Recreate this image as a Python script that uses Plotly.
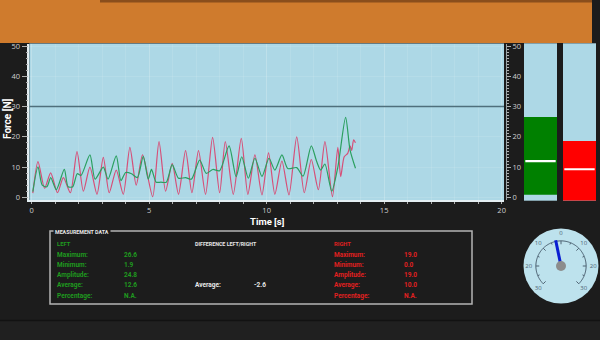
import numpy as np
import plotly.graph_objects as go

# ---------------- data ----------------
red_t = [0.05, 0.27, 0.55, 0.81, 1.1, 1.35, 1.65, 1.93, 2.2, 2.48, 2.78, 3.05, 3.3, 3.6, 3.9,
         4.18, 4.45, 4.72, 5.15, 5.42, 5.7, 5.98, 6.25, 6.55, 6.82, 7.1, 7.4, 7.7, 8.0, 8.24,
         8.58, 8.92, 9.2, 9.5, 9.8, 10.08, 10.35, 10.65, 10.95, 11.28, 11.6, 11.9, 12.2, 12.48,
         12.8, 13.03, 13.15, 13.3, 13.45, 13.55, 13.62, 13.7, 13.78]
red_v = [1.4, 11.8, 3.0, 8.1, 1.5, 6.5, 1.5, 15.1, 2.0, 10.0, 1.0, 13.2, 1.5, 9.0, 1.0,
         16.5, 4.0, 14.0, 0.2, 18.4, 2.0, 11.2, 1.0, 15.4, 1.5, 15.4, 1.0, 19.8, 1.5, 18.4,
         1.0, 19.5, 1.0, 14.0, 0.8, 14.7, 1.0, 12.0, 0.8, 20.0, 1.5, 12.5, 2.5, 18.4,
         0.2, 16.5, 6.8, 13.4, 14.5, 17.0, 15.5, 19.0, 18.0]

green_t = [0.05, 0.27, 0.45, 0.65, 0.81, 1.05, 1.39, 1.55, 1.75, 1.94, 2.1, 2.48, 2.7, 3.05,
           3.25, 3.6, 3.8, 4.0, 4.25, 4.5, 4.75, 4.96, 5.1, 5.3, 5.5, 5.73, 5.98, 6.25, 6.55,
           6.8, 7.15, 7.43, 7.71, 8.0, 8.4, 8.7, 8.94, 9.22, 9.5, 9.8, 10.1, 10.35, 10.65,
           10.9, 11.28, 11.55, 11.9, 12.13, 12.3, 12.48, 12.77, 13.03, 13.36, 13.55, 13.78]
green_v = [1.9, 10.1, 4.0, 3.5, 6.5, 2.5, 9.2, 3.5, 3.5, 7.8, 7.2, 14.0, 6.0, 10.0,
           6.0, 13.7, 5.5, 8.2, 7.8, 6.5, 13.5, 6.0, 9.2, 5.0, 5.0, 5.0, 10.8, 6.3, 6.5,
           6.0, 12.3, 7.9, 9.2, 8.8, 17.0, 6.8, 13.4, 6.3, 12.9, 6.9, 12.9, 9.0, 14.0,
           9.5, 9.8, 7.0, 17.0, 11.8, 9.0, 11.0, 2.0, 10.0, 26.4, 15.6, 9.6]

threshold = 30

x_ticks = [0, 5, 10, 15, 20]
y_ticks = [0, 10, 20, 30, 40, 50]

stat_labels = ["Maximum:", "Minimum:", "Amplitude:", "Average:", "Percentage:"]
left_values = [26.6, 1.9, 24.8, 12.6, None]
right_values = [19.0, 0.0, 19.0, 10.0, None]
diff_average = -2.6

gauge_ticks = [-30, -20, -10, 0, 10, 20, 30]
gauge_minor = [-25, -15, -5, 5, 15, 25]

# ---------------- helpers ----------------
W, H = 600, 340
def px(x):
    return x / W
def py(y):
    return 1 - y / H

BG = "#1c1c1c"
GREEN_LINE = "#2a9f5f"
RED_LINE = "#d64f78"
GREEN_TXT = "#1f9a1f"
RED_TXT = "#e02020"
WHITE_TXT = "#e8e8e8"
AX_TXT = "#cfcfcf"

fig = go.Figure()

# main chart
fig.add_trace(go.Scatter(x=red_t, y=red_v, mode="lines", xaxis="x", yaxis="y",
                         line=dict(color=RED_LINE, width=1.2, shape="spline", smoothing=0.7),
                         hoverinfo="skip"))
fig.add_trace(go.Scatter(x=green_t, y=green_v, mode="lines", xaxis="x", yaxis="y",
                         line=dict(color=GREEN_LINE, width=1.2, shape="spline", smoothing=0.7),
                         hoverinfo="skip"))
# invisible trace on the right axis so it is drawn
fig.add_trace(go.Scatter(x=[None], y=[None], xaxis="x", yaxis="y2", showlegend=False,
                         hoverinfo="skip"))

# level bars
left_max, left_min, left_avg = left_values[0], left_values[1], left_values[3]
right_max, right_min, right_avg = right_values[0], right_values[1], right_values[3]
fig.add_trace(go.Bar(x=[0], y=[left_max - left_min], base=[left_min], width=1,
                     xaxis="x3", yaxis="y3", marker=dict(color="#008000", line=dict(width=0)),
                     hoverinfo="skip"))
fig.add_trace(go.Bar(x=[0], y=[0.6], base=[left_avg - 0.3], width=0.92,
                     xaxis="x3", yaxis="y3", marker=dict(color="#ffffff", line=dict(width=0)),
                     hoverinfo="skip"))
fig.add_trace(go.Bar(x=[0], y=[right_max - right_min], base=[right_min], width=1,
                     xaxis="x4", yaxis="y3", marker=dict(color="#ff0000", line=dict(width=0)),
                     hoverinfo="skip"))
fig.add_trace(go.Bar(x=[0], y=[0.6], base=[right_avg - 0.3], width=0.92,
                     xaxis="x4", yaxis="y3", marker=dict(color="#ffffff", line=dict(width=0)),
                     hoverinfo="skip"))

# gauge (polar)
DEG = 135 / 30
arc_theta = np.linspace(-135, 135, 121)
fig.add_trace(go.Scatterpolar(r=[0.67] * len(arc_theta), theta=arc_theta, mode="lines",
                              line=dict(color="#4d6272", width=1), hoverinfo="skip"))
maj_r, maj_t = [], []
for t in gauge_ticks:
    maj_r += [0.67, 0.58, None]
    maj_t += [t * DEG, t * DEG, None]
fig.add_trace(go.Scatterpolar(r=maj_r, theta=maj_t, mode="lines",
                              line=dict(color="#4d6272", width=1), hoverinfo="skip"))
min_r, min_t = [], []
for t in gauge_minor:
    min_r += [0.67, 0.62, None]
    min_t += [t * DEG, t * DEG, None]
fig.add_trace(go.Scatterpolar(r=min_r, theta=min_t, mode="lines",
                              line=dict(color="#4d6272", width=1), hoverinfo="skip"))
fig.add_trace(go.Scatterpolar(r=[0.86] * len(gauge_ticks), theta=[t * DEG for t in gauge_ticks],
                              mode="text", text=[str(abs(t)) for t in gauge_ticks],
                              textfont=dict(size=6, color="#4d6272", family="Open Sans"),
                              hoverinfo="skip"))
fig.add_trace(go.Scatterpolar(r=[0, 0.7], theta=[diff_average * DEG] * 2, mode="lines",
                              line=dict(color="#0a1ed2", width=3), hoverinfo="skip"))
fig.add_trace(go.Scatterpolar(r=[0], theta=[0], mode="markers",
                              marker=dict(color="#8c8c8c", size=10), hoverinfo="skip"))

# ---------------- layout ----------------
tickfont = dict(size=7.5, color=AX_TXT, family="Open Sans")
fig.update_layout(
    width=W, height=H, autosize=False,
    margin=dict(l=0, r=0, t=0, b=0),
    paper_bgcolor=BG, plot_bgcolor="#add8e6",
    showlegend=False, barmode="overlay",
    xaxis=dict(domain=[px(29.3), px(504)], range=[-0.1, 20.1], anchor="y",
               tickvals=x_ticks, ticks="outside", ticklen=2, tickcolor="#b0b0b0",
               tickfont=tickfont, showline=True, linecolor="#e4eef2", linewidth=1.5,
               showgrid=True, gridcolor="rgba(255,255,255,0.12)", zeroline=False,
               minor=dict(dtick=1, tick0=0, ticks="outside", ticklen=2, tickcolor="#b0b0b0",
                          showgrid=True, gridcolor="rgba(255,255,255,0.1)"),
               automargin=False),
    yaxis=dict(domain=[py(200), py(43.5)], range=[-0.89, 50.83], anchor="x",
               tickvals=y_ticks, ticks="outside", ticklen=6, tickcolor="#b0b0b0",
               tickfont=tickfont, showline=True, linecolor="#e4eef2", linewidth=1.5,
               showgrid=True, gridcolor="rgba(255,255,255,0.1)", zeroline=False,
               minor=dict(dtick=2, ticks="outside", ticklen=2, tickcolor="#b0b0b0"),
               automargin=False),
    yaxis2=dict(overlaying="y", side="right", anchor="free", position=px(506),
                range=[-0.89, 50.83], tickvals=y_ticks, ticks="outside", ticklen=4,
                tickcolor="#b0b0b0", tickfont=tickfont, showline=True, linecolor="#9aa4a8",
                linewidth=1, showgrid=False, zeroline=False,
                minor=dict(dtick=1, ticks="outside", ticklen=2, tickcolor="#b0b0b0"),
                automargin=False),
    xaxis3=dict(domain=[px(524), px(557)], range=[-0.5, 0.5], anchor="y3", visible=False),
    xaxis4=dict(domain=[px(563), px(596)], range=[-0.5, 0.5], anchor="y3", visible=False),
    yaxis3=dict(domain=[py(200.7), py(43.3)], range=[0, 50], anchor="x3", visible=False),
    polar=dict(domain=dict(x=[px(523.5), px(598.5)], y=[py(303.5), py(228.5)]),
               bgcolor="#bde2ed",
               radialaxis=dict(visible=False, range=[0, 1]),
               angularaxis=dict(visible=False, rotation=90, direction="clockwise",
                                showgrid=False, showline=False, ticks="")),
)

shapes = []
# header
shapes.append(dict(type="rect", xref="paper", yref="paper", x0=0, x1=px(592), y0=py(43), y1=1,
                   fillcolor="#cf7b2d", line=dict(width=0), layer="below"))
shapes.append(dict(type="rect", xref="paper", yref="paper", x0=px(100), x1=px(592), y0=py(2.5), y1=1,
                   fillcolor="#8a4e1c", line=dict(width=0), layer="below"))
# bottom band
shapes.append(dict(type="rect", xref="paper", yref="paper", x0=0, x1=1, y0=0, y1=py(321),
                   fillcolor="#202020", line=dict(width=0), layer="below"))
shapes.append(dict(type="line", xref="paper", yref="paper", x0=0, x1=1, y0=py(320.5), y1=py(320.5),
                   line=dict(color="#121212", width=1.5), layer="below"))
# threshold line
shapes.append(dict(type="line", xref="x domain", yref="y", x0=0, x1=1, y0=threshold, y1=threshold,
                   line=dict(color="#4f6f7c", width=1.5)))
# measurement box
shapes.append(dict(type="rect", xref="paper", yref="paper", x0=px(50), x1=px(472), y0=py(304), y1=py(231),
                   line=dict(color="#b4b4b4", width=1.5), fillcolor="rgba(0,0,0,0)"))
fig.update_layout(shapes=shapes)

ann = []
def text(x, y, s, color, size=6.5, bold=True, bg=None, xanchor="left", angle=0, pad=1):
    d = dict(x=px(x), y=py(y), xref="paper", yref="paper", showarrow=False,
             text=f"<b>{s}</b>" if bold else s, xanchor=xanchor, yanchor="middle",
             font=dict(size=size, color=color, family="Roboto"), textangle=angle,
             borderpad=pad)
    if bg:
        d["bgcolor"] = bg
    ann.append(d)

text(8, 119, "Force [N]", "#ffffff", size=10, xanchor="center", angle=-90)
text(267, 221, "Time [s]", "#ffffff", size=9.5, xanchor="center", pad=0)

text(53, 231.5, "MEASUREMENT DATA", WHITE_TXT, size=5.3, bg=BG)
text(55, 244, "LEFT", GREEN_TXT, size=5.8)
text(193, 244, "DIFFERENCE LEFT/RIGHT", WHITE_TXT, size=5.3)
text(332, 244, "RIGHT", RED_TXT, size=5.8)

row_y = [254.5, 264.8, 275.1, 285.4, 295.7]
fmt = lambda v: "N.A." if v is None else f"{v:.1f}"
for i, lab in enumerate(stat_labels):
    text(55, row_y[i], lab, GREEN_TXT)
    text(122, row_y[i], fmt(left_values[i]), GREEN_TXT)
    text(332, row_y[i], lab, RED_TXT)
    text(402, row_y[i], fmt(right_values[i]), RED_TXT)
text(193, row_y[3], "Average:", WHITE_TXT)
text(252, row_y[3], f"{diff_average:.1f}", WHITE_TXT)

fig.update_layout(annotations=ann)

fig.write_html("out.html")
